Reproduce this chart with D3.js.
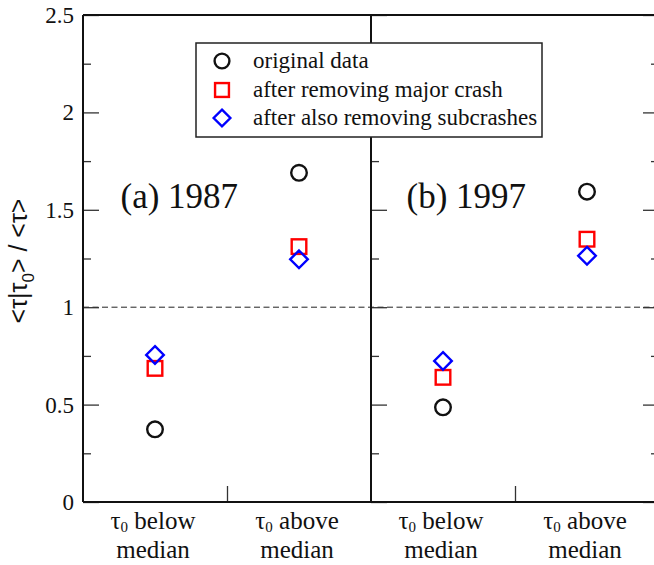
<!DOCTYPE html>
<html>
<head>
<meta charset="utf-8">
<script src="https://cdn.jsdelivr.net/npm/d3@7"></script>
<style>
  html, body { margin: 0; padding: 0; background: #fff; }
  svg { display: block; }
</style>
</head>
<body>
<svg id="chart" width="654" height="565"></svg>
<script>
// Conditional mean return interval, split by tau_0 relative to its median
const panelNames = ["(a) 1987", "(b) 1997"];
const categoryWords = [["below", "median"], ["above", "median"]];
const seriesNames = ["original data", "after removing major crash", "after also removing subcrashes"];

const original1987 = [0.373, 1.690];
const majorRemoved1987 = [0.686, 1.311];
const subRemoved1987 = [0.755, 1.246];

const original1997 = [0.486, 1.593];
const majorRemoved1997 = [0.640, 1.349];
const subRemoved1997 = [0.724, 1.264];

const yMajorTicks = [0, 0.5, 1, 1.5, 2, 2.5];
const yMinorTicks = [0.25, 0.75, 1.25, 1.75, 2.25];
const yTickLabels = ["0", "0.5", "1", "1.5", "2", "2.5"];

const panels = [
  { name: panelNames[0], series: [original1987, majorRemoved1987, subRemoved1987] },
  { name: panelNames[1], series: [original1997, majorRemoved1997, subRemoved1997] }
];

const SERIF = '"Liberation Serif", "Times New Roman", Times, serif';
const SANS = '"Liberation Sans", Arial, Helvetica, sans-serif';

const svg = d3.select("#chart");
const plotTop = 15, plotBottom = 502;
const panelEdges = [83, 371, 659];

const y = d3.scaleLinear().domain([0, 2.5]).range([plotBottom, plotTop]);
// each panel spans 0..4 with the two categories at 1 and 3
const xPanels = panels.map((p, i) =>
  d3.scaleLinear().domain([0, 4]).range([panelEdges[i], panelEdges[i + 1]]));
const catPos = [1, 3];

const colors = ["#111111", "#ff0000", "#0000ff"];
const shapes = ["circle", "square", "diamond"];

function drawMarker(g, shape, cx, cy, color, s) {
  if (shape === "circle") {
    g.append("circle").attr("cx", cx).attr("cy", cy).attr("r", 7.8 * s)
      .attr("fill", "none").attr("stroke", color).attr("stroke-width", 2.4);
  } else if (shape === "square") {
    const h = 7.3 * s;
    g.append("rect").attr("x", cx - h).attr("y", cy - h).attr("width", 2 * h).attr("height", 2 * h)
      .attr("fill", "none").attr("stroke", color).attr("stroke-width", 2.4);
  } else {
    const h = 8.8 * s;
    g.append("path").attr("d", `M${cx},${cy - h}L${cx + h},${cy}L${cx},${cy + h}L${cx - h},${cy}Z`)
      .attr("fill", "none").attr("stroke", color).attr("stroke-width", 2.4);
  }
}

function serifText(sel, size) {
  return sel.style("font-family", SERIF).style("font-size", size + "px").style("fill", "#111");
}

// dashed reference line at 1
svg.append("line")
  .attr("x1", panelEdges[0]).attr("x2", panelEdges[2])
  .attr("y1", y(1)).attr("y2", y(1))
  .attr("stroke", "#222").attr("stroke-width", 1).attr("stroke-dasharray", "6,3.5");

function styleAxis(g) {
  g.select(".domain").remove();
  g.selectAll(".tick line").attr("stroke", "#333").attr("stroke-width", 1.3);
}

// left axis with labels, ticks pointing inward
svg.append("g").attr("transform", `translate(${panelEdges[0]},0)`)
  .call(d3.axisLeft(y).tickValues(yMajorTicks).tickSize(-16).tickPadding(9)
    .tickFormat((d, i) => yTickLabels[i]))
  .call(styleAxis)
  .call(g => serifText(g.selectAll(".tick text"), 23).attr("dy", "0.33em"));
svg.append("g").attr("transform", `translate(${panelEdges[0]},0)`)
  .call(d3.axisLeft(y).tickValues(yMinorTicks).tickSize(-8).tickFormat(""))
  .call(styleAxis);

// divider: left axis of the second panel
svg.append("g").attr("transform", `translate(${panelEdges[1]},0)`)
  .call(d3.axisLeft(y).tickValues(yMajorTicks).tickSize(-16).tickFormat(""))
  .call(styleAxis);
svg.append("g").attr("transform", `translate(${panelEdges[1]},0)`)
  .call(d3.axisLeft(y).tickValues(yMinorTicks).tickSize(-8).tickFormat(""))
  .call(styleAxis);

// right axis
svg.append("g").attr("transform", `translate(${panelEdges[2]},0)`)
  .call(d3.axisRight(y).tickValues(yMajorTicks).tickSize(-16).tickFormat(""))
  .call(styleAxis);
svg.append("g").attr("transform", `translate(${panelEdges[2]},0)`)
  .call(d3.axisRight(y).tickValues(yMinorTicks).tickSize(-8).tickFormat(""))
  .call(styleAxis);

// bottom ticks at the middle of each panel
xPanels.forEach(x => {
  svg.append("g").attr("transform", `translate(0,${plotBottom})`)
    .call(d3.axisBottom(x).tickValues([2]).tickSize(-16).tickFormat(""))
    .call(styleAxis);
});

// frame lines
const frame = svg.append("g").attr("stroke", "#111").attr("stroke-width", 2).attr("fill", "none");
frame.append("line").attr("x1", panelEdges[0]).attr("x2", panelEdges[2]).attr("y1", plotTop).attr("y2", plotTop);
frame.append("line").attr("x1", panelEdges[0]).attr("x2", panelEdges[2]).attr("y1", plotBottom).attr("y2", plotBottom);
panelEdges.forEach(px => {
  frame.append("line").attr("x1", px).attr("x2", px).attr("y1", plotTop).attr("y2", plotBottom);
});

// markers, panel titles and two-line category labels
panels.forEach((p, pi) => {
  const x = xPanels[pi];
  const g = svg.append("g");
  p.series.forEach((vals, si) => {
    vals.forEach((v, ci) => drawMarker(g, shapes[si], x(catPos[ci]), y(v), colors[si], 1));
  });
  serifText(svg.append("text"), 35)
    .attr("x", x(0) + (pi === 0 ? 37.5 : 35.5)).attr("y", 208)
    .text(p.name);
  catPos.forEach((c, ci) => {
    const cx = x(c) - 2;
    const t1 = serifText(svg.append("text"), 25)
      .attr("text-anchor", "middle").attr("x", cx).attr("y", 529);
    t1.append("tspan").text("τ");
    t1.append("tspan").style("font-size", "15px").attr("dy", 3).text("0");
    t1.append("tspan").attr("dy", -3).text(" " + categoryWords[ci][0]);
    serifText(svg.append("text"), 25)
      .attr("text-anchor", "middle").attr("x", cx).attr("y", 558).text(categoryWords[ci][1]);
  });
});

// y axis title
const yt = svg.append("text")
  .style("font-family", SANS).style("font-size", "25px").style("fill", "#111")
  .attr("text-anchor", "middle")
  .attr("transform", "translate(27,261) rotate(-90)");
yt.append("tspan").text("<τ|τ");
yt.append("tspan").style("font-size", "17px").attr("dy", 7).text("0");
yt.append("tspan").attr("dy", -7).text("> / <τ>");

// legend
const lg = svg.append("g");
lg.append("rect").attr("x", 196).attr("y", 43).attr("width", 346).attr("height", 94)
  .attr("fill", "#fff").attr("stroke", "#222").attr("stroke-width", 1.5);
const rowY = [61, 90, 118];
seriesNames.forEach((name, i) => {
  drawMarker(lg, shapes[i], 222, rowY[i], colors[i], 0.95);
  serifText(lg.append("text"), 23)
    .attr("x", 253).attr("y", rowY[i] + 6.5).text(name);
});
</script>
</body>
</html>
